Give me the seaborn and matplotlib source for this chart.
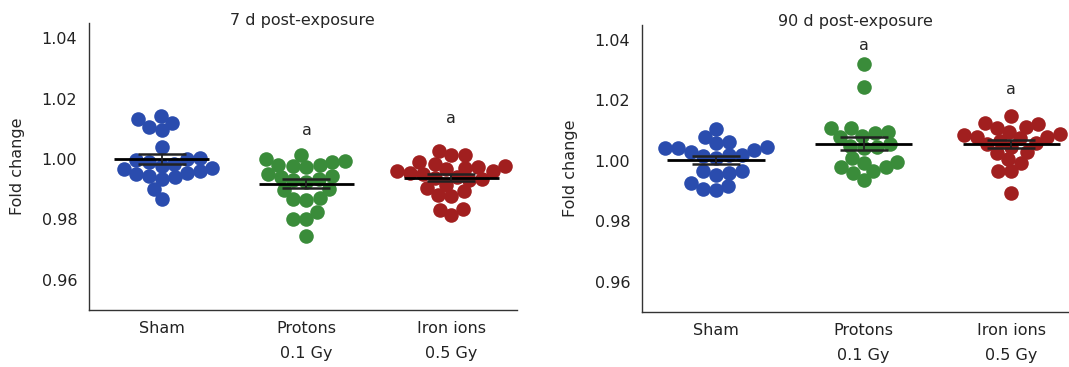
import numpy as np
import pandas as pd
import matplotlib
matplotlib.use("Agg")
import matplotlib.pyplot as plt
import seaborn as sns
from matplotlib.ticker import FormatStrFormatter

# ============================================================
# DATA
# ============================================================

groups = ["Sham", "Protons\n0.1 Gy", "Iron ions\n0.5 Gy"]
colors = ["#2a4cae", "#3a8c3a", "#a11f1f"]

sham_7d = [1.0131, 1.0106, 1.0095, 1.0120, 1.0142, 1.0039, 0.9901, 0.9868,
           1.0005, 1.0000, 0.9996, 0.9990, 0.9985, 0.9978, 0.9972, 0.9966,
           0.9960, 0.9955, 0.9950, 0.9945, 0.9940, 0.9935]
protons_7d = [1.0001, 1.0012, 0.9990, 0.9982, 0.9976, 0.9975, 0.9980, 0.9995,
              0.9942, 0.9950, 0.9935, 0.9930, 0.9925, 0.9945,
              0.9900, 0.9898, 0.9866, 0.9869, 0.9871, 0.9801, 0.9825, 0.9801, 0.9745]
iron_7d = [1.0012, 1.0015, 1.0028,
           0.9990, 0.9984, 0.9978, 0.9972, 0.9966, 0.9960, 0.9955, 0.9950, 0.9975, 0.9962,
           0.9940, 0.9938, 0.9935, 0.9930, 0.9915, 0.9905,
           0.9882, 0.9877, 0.9893, 0.9836, 0.9814, 0.9832]

sham_90d = [1.0106, 1.0064, 1.0047, 1.0042, 1.0036, 1.0042, 1.0058, 1.0080,
            1.0031, 1.0020, 1.0015, 1.0010, 1.0020,
            0.9954, 0.9965, 0.9960, 0.9965, 0.9918, 0.9904, 0.9907, 0.9926]
protons_90d = [1.0320, 1.0245, 1.0108, 1.0091, 1.0078, 1.0083, 1.0097, 1.0108,
               1.0047, 1.0042, 1.0050, 1.0055, 0.9998, 0.9981, 0.9965, 1.0009,
               0.9961, 0.9979, 0.9992, 0.9937]
iron_90d = [1.0113, 1.0123, 1.0109, 1.0124, 1.0149, 1.0080, 1.0097, 1.0090,
            1.0080, 1.0075, 1.0065, 1.0060, 1.0055, 1.0045, 1.0030, 1.0025,
            1.0005, 0.9965, 0.9965, 0.9992, 0.9893, 1.0085]

titles = ["7 d post-exposure", "90 d post-exposure"]
yticks = [0.96, 0.98, 1.00, 1.02, 1.04]

# significance letter heights per panel (Sham has none)
letter_y_7d = [None, 1.0093, 1.0135]
letter_y_90d = [None, 1.0383, 1.0237]

panels = [
    ([sham_7d, protons_7d, iron_7d], letter_y_7d),
    ([sham_90d, protons_90d, iron_90d], letter_y_90d),
]

# ============================================================
# PLOT
# ============================================================

sns.set_style("white")
plt.rcParams['font.family'] = ['DejaVu Sans']
FS = 11.5

fig = plt.figure(figsize=(10.69, 3.67), dpi=100)
ax1 = fig.add_axes([0.0833, 0.155, 0.400, 0.782])
ax2 = fig.add_axes([0.6006, 0.150, 0.3994, 0.782])
axes = [ax1, ax2]
xlims = [(-0.5, 2.45), (-0.5, 2.39)]

for ax, (series, letters), title, xl in zip(axes, panels, titles, xlims):
    df = pd.DataFrame({
        "group": np.repeat(groups, [len(s) for s in series]),
        "value": np.concatenate(series),
    })
    # swarm laid out with a slightly smaller marker so the dots overlap a bit
    sns.swarmplot(data=df, x="group", y="value", hue="group", order=groups,
                  hue_order=groups, palette=colors, size=9.0, legend=False,
                  ax=ax, warn_thresh=1.0, zorder=2)

    # mean line + SEM
    for i, s in enumerate(series):
        m = np.mean(s)
        sem = np.std(s, ddof=1) / np.sqrt(len(s))
        ax.hlines(m, i - 0.33, i + 0.33, color="black", lw=2, zorder=5)
        ax.errorbar(i, m, yerr=sem, color="#222222", lw=1.3, capsize=17,
                    capthick=1.8, zorder=6)
        if letters[i] is not None:
            ax.text(i, letters[i], "a", ha="center", va="center", fontsize=FS)

    ax.set_xlim(*xl)
    ax.set_ylim(0.95, 1.045)
    ax.set_yticks(yticks)
    ax.yaxis.set_major_formatter(FormatStrFormatter('%.2f'))
    ax.set_xlabel("")
    ax.set_ylabel("Fold change", fontsize=FS, labelpad=12)
    ax.set_title(title, fontsize=FS, pad=-1)
    ax.set_xticks(range(3))
    ax.set_xticklabels(groups, fontsize=FS, linespacing=1.85)
    ax.tick_params(axis="x", direction="in", length=5, width=1, pad=8, colors="#222222")
    ax.tick_params(axis="y", direction="out", length=5, width=1, pad=3.5, colors="#222222")
    ax.tick_params(axis="y", labelsize=FS)
    sns.despine(ax=ax)
    for sp in ["left", "bottom"]:
        ax.spines[sp].set_color("#333333")
        ax.spines[sp].set_linewidth(1)

# freeze the swarm positions, then redraw the dots a little larger
fig.canvas.draw()
for ax in axes:
    for coll, col in zip(list(ax.collections), colors):
        xy = coll.get_offsets()
        coll.set_visible(False)
        ax.scatter(xy[:, 0], xy[:, 1], s=110, color=col, linewidths=0, zorder=2)

plt.savefig("out.png", dpi=100)
